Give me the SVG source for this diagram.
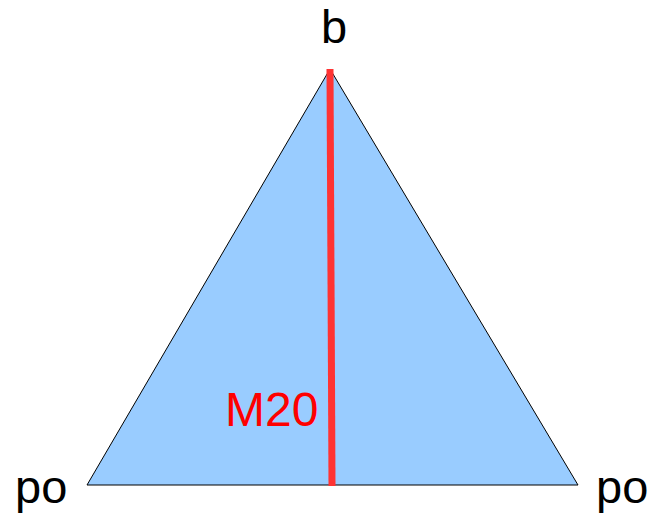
<svg xmlns="http://www.w3.org/2000/svg" width="653" height="513" viewBox="0 0 653 513">
<style>
.lbl{font-family:"Liberation Sans",Arial,sans-serif;font-size:47px;fill:#000}
.red{fill:#ff0000;font-size:48px}
</style>
<rect width="653" height="513" fill="#fff"/>
<g id="triangle">
<polygon points="330,69 87,485 578,485" fill="#99ccff" stroke="#000" stroke-width="1"/>
</g>
<g id="connectors">
<line x1="330" y1="69" x2="332" y2="486" stroke="#ff3333" stroke-width="7"/>
</g>
<g id="label-b"><text class="lbl" x="334" y="43" text-anchor="middle">b</text></g>
<g id="label-po-left"><text class="lbl" x="15" y="503">po</text></g>
<g id="label-po-right"><text class="lbl" x="596" y="503">po</text></g>
<g id="label-m20"><text class="lbl red" x="225" y="426">M20</text></g>
</svg>
